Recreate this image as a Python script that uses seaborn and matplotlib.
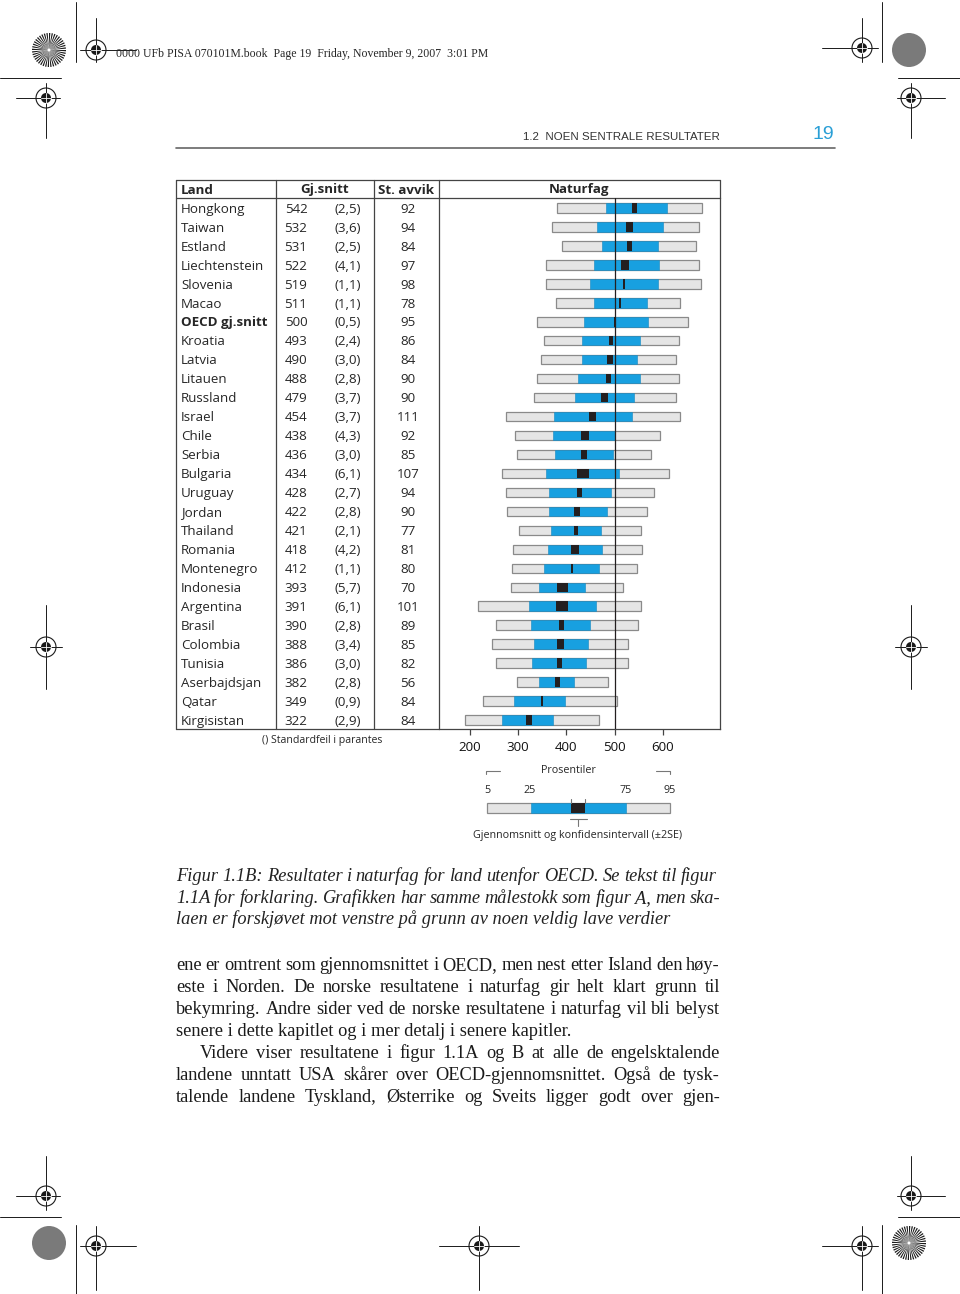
import matplotlib
matplotlib.use("Agg")
import numpy as np
import matplotlib.pyplot as plt
import matplotlib.transforms as mtransforms
from matplotlib.patches import Circle, Wedge, Rectangle
import seaborn as sns

# data (PISA 2006, naturfag, land utenfor OECD)
countries = ["Hongkong", "Taiwan", "Estland", "Liechtenstein", "Slovenia", "Macao",
             "OECD gj.snitt", "Kroatia", "Latvia", "Litauen", "Russland", "Israel",
             "Chile", "Serbia", "Bulgaria", "Uruguay", "Jordan", "Thailand", "Romania",
             "Montenegro", "Indonesia", "Argentina", "Brasil", "Colombia", "Tunisia",
             "Aserbajdsjan", "Qatar", "Kirgisistan"]
means = [542, 532, 531, 522, 519, 511, 500, 493, 490, 488, 479, 454, 438, 436, 434,
         428, 422, 421, 418, 412, 393, 391, 390, 388, 386, 382, 349, 322]
se = [2.5, 3.6, 2.5, 4.1, 1.1, 1.1, 0.5, 2.4, 3.0, 2.8, 3.7, 3.7, 4.3, 3.0, 6.1,
      2.7, 2.8, 2.1, 4.2, 1.1, 5.7, 6.1, 2.8, 3.4, 3.0, 2.8, 0.9, 2.9]
sd = [92, 94, 84, 97, 98, 78, 95, 86, 84, 90, 90, 111, 92, 85, 107, 94, 90, 77, 81,
      80, 70, 101, 89, 85, 82, 56, 84, 84]
p5 = [380, 370, 392, 357, 358, 378, 340, 354, 348, 339, 332, 275, 294, 297, 266,
      274, 276, 301, 290, 287, 285, 217, 254, 246, 254, 298, 228, 190]
p25 = [482, 464, 474, 458, 449, 458, 436, 433, 433, 425, 419, 375, 373, 377, 358,
       363, 363, 368, 361, 354, 344, 323, 327, 332, 329, 344, 291, 266]
p75 = [610, 601, 590, 592, 590, 567, 569, 553, 547, 553, 541, 536, 500, 496, 509,
       493, 485, 471, 473, 467, 439, 462, 449, 446, 441, 416, 397, 373]
p95 = [682, 676, 669, 675, 679, 636, 652, 634, 627, 633, 627, 636, 594, 576, 613,
       583, 568, 554, 557, 547, 518, 554, 548, 527, 529, 486, 505, 467]
xticks = [200, 300, 400, 500, 600]
legend_pct = ["5", "25", "75", "95"]

caption = ["Figur 1.1B:  Resultater i naturfag for land utenfor OECD. Se tekst til figur",
           "1.1A for forklaring. Grafikken har samme målestokk som figur A, men ska-",
           "laen er forskjøvet mot venstre på grunn av noen veldig lave verdier"]
body = ["ene er omtrent som gjennomsnittet i OECD, men nest etter Island den høy-",
        "este i Norden. De norske resultatene i naturfag gir helt klart grunn til",
        "bekymring. Andre sider ved de norske resultatene i naturfag vil bli belyst",
        "senere i dette kapitlet og i mer detalj i senere kapitler.",
        "Videre viser resultatene i figur 1.1A og B at alle de engelsktalende",
        "landene unntatt USA skårer over OECD-gjennomsnittet. Også de tysk-",
        "talende landene Tyskland, Østerrike og Sveits ligger godt over gjen-"]

sns.set_theme(style="white")
plt.rcParams["font.family"] = ["Open Sans", "DejaVu Sans"]

BLUE = "#18a0e0"
GRAY = "#e5e5e5"
EDGE = "#8a8a8a"
DARK = "#231f20"
LINE = "#444444"
SERIF = ["Liberation Serif", "DejaVu Serif"]

fig = plt.figure(figsize=(9.6, 12.94), dpi=100)
pg = fig.add_axes([0, 0, 1, 1])
pg.set_xlim(0, 960)
pg.set_ylim(1294, 0)
pg.axis("off")
renderer = fig.canvas.get_renderer()


def width_of(s, size, **kw):
    t = pg.text(0, 0, s, fontsize=size, **kw)
    w = t.get_window_extent(renderer).width
    t.remove()
    return w


def fit(s, target, **kw):
    return 10 * target / width_of(s, 10, **kw)


def justify(line, x0, x1, y, size, **kw):
    words = line.split()
    ws = [width_of(w, size, **kw) for w in words]
    gap = (x1 - x0 - sum(ws)) / (len(words) - 1)
    x = x0
    for w, wd in zip(words, ws):
        pg.text(x, y, w, fontsize=size, va="center", ha="left", **kw)
        x += wd + gap


# ---- printer marks ----
def reg_mark(cx, cy, h=(-16, 40), v=(-32, 12)):
    pg.plot([cx + h[0], cx + h[1]], [cy, cy], color="k", lw=0.7)
    pg.plot([cx, cx], [cy + v[0], cy + v[1]], color="k", lw=0.7)
    pg.add_patch(Circle((cx, cy), 10, fill=False, ec="k", lw=0.8))
    pg.add_patch(Circle((cx, cy), 5, fc="k", ec="none"))
    pg.plot([cx - 5, cx + 5], [cy, cy], color="w", lw=0.6)
    pg.plot([cx, cx], [cy - 5, cy + 5], color="w", lw=0.6)


def starburst(cx, cy, r=17):
    for k in range(40):
        pg.add_patch(Wedge((cx, cy), r, k * 9, k * 9 + 4.5, fc="k", ec="none"))
    pg.add_patch(Circle((cx, cy), 1.5, fc="w", ec="none"))


starburst(49, 50)
pg.add_patch(Circle((909, 50), 17, fc="#7a7a7a", ec="none"))
pg.add_patch(Circle((49, 1243), 17, fc="#7a7a7a", ec="none"))
starburst(909, 1243)
reg_mark(96, 50, h=(-16, 40), v=(-32, 12))
reg_mark(862, 48, h=(-40, 16), v=(-30, 14))
reg_mark(46, 98, h=(-30, 14), v=(-15, 40))
reg_mark(911, 98, h=(-14, 34), v=(-15, 40))
reg_mark(46, 647, h=(-16, 16), v=(-42, 42))
reg_mark(911, 647, h=(-16, 16), v=(-42, 42))
reg_mark(46, 1196, h=(-30, 14), v=(-40, 14))
reg_mark(911, 1196, h=(-14, 34), v=(-40, 14))
reg_mark(96, 1246, h=(-16, 40), v=(-20, 44))
reg_mark(479, 1246, h=(-40, 40), v=(-20, 44))
reg_mark(862, 1246, h=(-40, 16), v=(-20, 44))
for xs, ys in [([76, 76], [2, 62]), ([882, 882], [2, 62]), ([0, 61], [78, 78]),
               ([898, 960], [78, 78]), ([0, 61], [1217, 1217]), ([898, 960], [1217, 1217]),
               ([76, 76], [1225, 1294]), ([882, 882], [1225, 1294])]:
    pg.plot(xs, ys, color="k", lw=0.7)

# ---- page header ----
hdr = "0000 UFb PISA 070101M.book  Page 19  Friday, November 9, 2007  3:01 PM"
pg.text(116, 54.5, hdr, fontsize=fit(hdr, 370, family=SERIF), family=SERIF,
        va="center", ha="left")
run = "1.2  NOEN SENTRALE RESULTATER"
pg.text(720, 136.5, run, fontsize=fit(run, 196, family="Liberation Sans"),
        family="Liberation Sans", color="#333333", va="center", ha="right")
pg.text(834, 134.5, "19", fontsize=14, family="Liberation Sans", color="#2a9fd6",
        va="center", ha="right")
pg.plot([176, 835], [148, 148], color="#666666", lw=1.2)

# ---- chart ----
TOP, BOT, LEFT, RIGHT = 198, 729, 439, 720
row_px = 18.96
ax = fig.add_axes([LEFT / 960, 1 - BOT / 1294, (RIGHT - LEFT) / 960, (BOT - TOP) / 1294])
ax.patch.set_alpha(0)
px_per_pt = 0.4817
ax.set_xlim(200 - (470 - LEFT) / px_per_pt, 200 + (RIGHT - 470) / px_per_pt)
ax.set_ylim(len(countries) - 1 + 9 / row_px, -10 / row_px)

y = np.arange(len(countries))
p5a, p25a, p75a, p95a = map(np.array, (p5, p25, p75, p95))
m = np.array(means)
e = 2 * np.array(se)
ax.barh(y, p95a - p5a, left=p5a, height=0.5, color=GRAY, edgecolor=EDGE, lw=0.9, zorder=2)
ax.barh(y, p75a - p25a, left=p25a, height=0.5, color=BLUE, edgecolor="#1388c0", lw=0.4, zorder=3)
ax.axvline(500, color=DARK, lw=0.9, zorder=4)
ax.barh(y, 2 * e, left=m - e, height=0.5, color=DARK, lw=0, zorder=5)

for s in ["top", "left"]:
    ax.spines[s].set_visible(False)
for s in ["bottom", "right"]:
    ax.spines[s].set_color(LINE)
    ax.spines[s].set_linewidth(0.9)

fs = fit("Liechtenstein", 81) * 1.03
ax.set_yticks([])
ax.set_xticks(xticks)
ax.tick_params(axis="x", bottom=True, direction="out", length=4, width=0.9,
               color=LINE, labelsize=fs, pad=4.5, labelcolor="#111111")

# table frame
for xs, ys in [([176, RIGHT], [180, 180]), ([176, 176], [180, BOT]), ([RIGHT, RIGHT], [180, TOP]),
               ([176, RIGHT], [TOP, TOP]), ([176, LEFT], [BOT, BOT]),
               ([276, 276], [180, BOT]), ([374, 374], [180, BOT]), ([LEFT, LEFT], [180, BOT])]:
    pg.plot(xs, ys, color=LINE, lw=0.9)

hy = 190
pg.text(181, hy, "Land", fontsize=fs, weight="bold", va="center", ha="left")
pg.text(325, hy, "Gj.snitt", fontsize=fs, weight="bold", va="center", ha="center")
pg.text(406, hy, "St. avvik", fontsize=fs, weight="bold", va="center", ha="center")
pg.text((LEFT + RIGHT) / 2, hy, "Naturfag", fontsize=fs, weight="bold", va="center", ha="center")

tr = mtransforms.blended_transform_factory(pg.transData, ax.transData)
dy = 1.2 / row_px
for i, c in enumerate(countries):
    w = "bold" if c.startswith("OECD") else "normal"
    pg.text(181, i + dy, c, transform=tr, fontsize=fs, weight=w, va="center", ha="left")
    pg.text(296, i + dy, str(means[i]), transform=tr, fontsize=fs, va="center", ha="center")
    pg.text(348, i + dy, "(" + f"{se[i]:.1f}".replace(".", ",") + ")", transform=tr,
            fontsize=fs, va="center", ha="center")
    pg.text(408, i + dy, str(sd[i]), transform=tr, fontsize=fs, va="center", ha="center")

pg.text(262, 740.5, "() Standardfeil i parantes", fontsize=fs * 0.78, va="center", ha="left")

# ---- legend sketch ----
lfs = fs * 0.8
pg.text(568, 770.5, "Prosentiler", fontsize=lfs, va="center", ha="center")
pg.plot([486, 486, 500], [774, 771, 771], color="#777777", lw=0.8)
pg.plot([656, 670, 670], [771, 771, 774], color="#777777", lw=0.8)
for lab, lx in zip(legend_pct, [487, 530, 626, 670]):
    pg.text(lx, 790.5, lab, fontsize=lfs, va="center", ha="center")
pg.add_patch(Rectangle((487, 803), 183, 9.5, fc=GRAY, ec=EDGE, lw=0.9))
pg.add_patch(Rectangle((530.7, 803), 95, 9.5, fc=BLUE, ec="#1388c0", lw=0.4))
pg.add_patch(Rectangle((571.3, 803), 14, 9.5, fc=DARK, ec="none"))
pg.plot([571.3, 571.3], [799, 803], color="#777777", lw=0.8)
pg.plot([585.3, 585.3], [799, 803], color="#777777", lw=0.8)
pg.plot([570, 587], [819, 819], color="#777777", lw=0.8)
pg.plot([578.3, 578.3], [819, 826], color="#777777", lw=0.8)
pg.text(578, 835.5, "Gjennomsnitt og konfidensintervall (±2SE)", fontsize=lfs,
        va="center", ha="center")

# ---- caption and body text ----
ckw = dict(family=SERIF, style="italic", color="#222222")
cfs = fit(caption[2], 495, **ckw)
justify(caption[0], 176, 717, 876.5, cfs, **ckw)
justify(caption[1], 176, 720, 898.5, cfs, **ckw)
pg.text(176, 919.5, caption[2], fontsize=cfs, va="center", ha="left", **ckw)

bkw = dict(family=SERIF, color="#1a1a1a")
bfs = fit(body[3], 395, **bkw)
body_y = [965.5, 987.5, 1009.5, 1031.5, 1053.5, 1075.5, 1097]
for k, (line, ly) in enumerate(zip(body, body_y)):
    if k == 3:
        pg.text(176, ly, line, fontsize=bfs, va="center", ha="left", **bkw)
    else:
        justify(line, 200 if k == 4 else 176, 720, ly, bfs, **bkw)

fig.savefig("out.png", dpi=100)
